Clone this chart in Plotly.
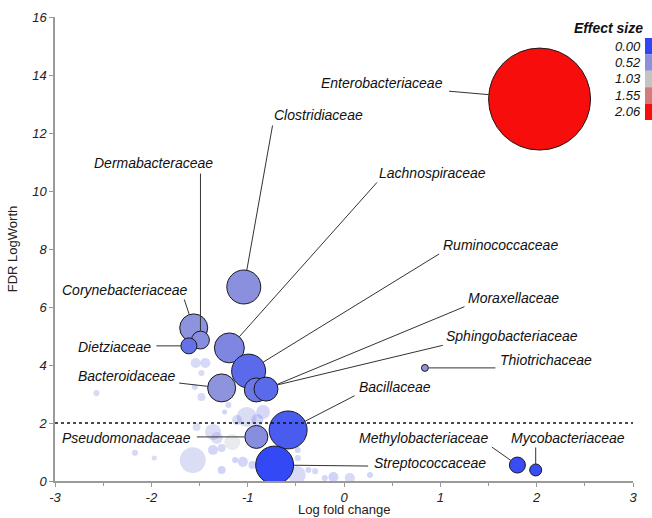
import plotly.graph_objects as go
from plotly.colors import sample_colorscale

# ---------------- data ----------------
# labelled (significant) taxa
taxa = ["Enterobacteriaceae", "Clostridiaceae", "Corynebacteriaceae", "Dermabacteraceae",
        "Dietziaceae", "Lachnospiraceae", "Ruminococcaceae", "Sphingobacteriaceae",
        "Moraxellaceae", "Thiotrichaceae", "Bacteroidaceae", "Bacillaceae",
        "Pseudomonadaceae", "Streptococcaceae", "Methylobacteriaceae", "Mycobacteriaceae"]
log_fc = [2.03, -1.04, -1.56, -1.49, -1.61, -1.19, -0.99, -0.91,
          -0.81, 0.84, -1.27, -0.58, -0.91, -0.72, 1.80, 1.99]
logworth = [13.17, 6.69, 5.28, 4.86, 4.66, 4.59, 3.79, 3.14,
            3.17, 3.90, 3.21, 1.76, 1.52, 0.55, 0.55, 0.38]
effect = [2.06, 0.52, 0.55, 0.50, 0.30, 0.45, 0.25, 0.35,
          0.25, 0.55, 0.55, 0.15, 0.50, 0.02, 0.05, 0.05]
abundance = [650, 72, 49, 20, 16, 56, 72, 36, 36, 3, 49, 90, 33, 90, 16, 9]

# other (non-highlighted) taxa
bg_fc = [-2.57, -2.17, -1.97, -1.54, -1.44, -1.48, -1.55, -1.48, -1.20, -1.24,
         -1.01, -0.90, -0.84, -1.11, -1.53, -1.36, -1.32, -1.16, -1.36, -1.27,
         -1.57, -1.13, -1.05, -0.95, -1.27, -0.48, -0.48, -0.49, -0.37, -0.30,
         -0.20, -0.11, 0.06, 0.27]
bg_lw = [3.03, 0.97, 0.79, 4.07, 4.07, 3.72, 3.24, 2.90, 2.62, 2.38,
         2.21, 2.10, 2.38, 2.10, 1.86, 1.69, 1.48, 1.34, 1.07, 1.14,
         0.72, 0.72, 0.66, 0.55, 0.38, 0.79, 1.07, 0.21, 0.38, 0.34,
         0.10, 0.14, 0.10, 0.21]
bg_effect = [0.45, 0.40, 0.45, 0.45, 0.40, 0.45, 0.40, 0.45, 0.40, 0.35,
             0.50, 0.35, 0.40, 0.45, 0.50, 0.50, 0.55, 0.95, 0.35, 0.40,
             0.50, 0.30, 0.35, 0.35, 0.30, 0.40, 0.35, 0.45, 0.35, 0.40,
             0.35, 0.30, 0.45, 0.35]
bg_abundance = [2.3, 2.3, 1.6, 6.3, 6.3, 2.3, 2.3, 4, 2.3, 1.6,
                25, 9, 12, 6.3, 4, 16, 9, 16, 6.3, 4,
                42, 2.3, 6.3, 4, 4, 2.3, 2.3, 20, 2.3, 2.3,
                2.3, 6.3, 6.3, 2.3]

x_ticks = [-3, -2, -1, 0, 1, 2, 3]
x_minor = [-2.5, -1.5, -0.5, 0.5, 1.5, 2.5]
y_ticks = [0, 2, 4, 6, 8, 10, 12, 14, 16]
threshold = 2
legend_values = [0.00, 0.52, 1.03, 1.55, 2.06]
legend_labels = ["0.00", "0.52", "1.03", "1.55", "2.06"]
x_title = "Log fold change"
y_title = "FDR LogWorth"

# ---------------- styling ----------------
FONT = "Liberation Sans, Arial, sans-serif"
EMAX = 2.06
cscale = [[0.0, "#3046f6"], [0.52 / EMAX, "#8a90de"], [1.03 / EMAX, "#c4c4c4"],
          [1.55 / EMAX, "#d47a7a"], [1.0, "#f80d0d"]]
SIZEREF = 0.125

# label placement (pixel offsets from the bubble centre):
# xanchor, text dx, text dy, line-tail dx, line-tail dy, standoff
label_pos = {
    "Enterobacteriaceae": ("right", -95, -16, -92, -8, 51),
    "Clostridiaceae": ("left", 28, -172, 29, -163, 17),
    "Corynebacteriaceae": ("right", -4, -38, -10, -30, 14),
    "Dermabacteraceae": ("left", -108, -177, 0, -168, 9),
    "Dietziaceae": ("right", -36, 1, -34, 0, 8),
    "Lachnospiraceae": ("left", 148, -175, 149, -167, 15),
    "Ruminococcaceae": ("left", 192, -126, 192, -118, 17),
    "Sphingobacteriaceae": ("left", 188, -54, 188, -45, 22),
    "Moraxellaceae": ("left", 200, -91, 200, -83, 12),
    "Thiotrichaceae": ("left", 73, -8, 72, 0, 4),
    "Bacteroidaceae": ("right", -44, -12, -44, -5, 14),
    "Bacillaceae": ("left", 69, -43, 68, -35, 19),
    "Pseudomonadaceae": ("right", -63, 1, -61, 0, 12),
    "Streptococcaceae": ("left", 97, -2, 95, 1, 19),
    "Methylobacteriaceae": ("right", -27, -27, -27, -19, 8),
    "Mycobacteriaceae": ("left", -27, -32, 0, -24, 6),
}

fig = go.Figure()

fig.add_trace(go.Scatter(
    x=bg_fc, y=bg_lw, mode="markers", hoverinfo="skip",
    marker=dict(size=bg_abundance, sizemode="area", sizeref=SIZEREF,
                color=bg_effect, colorscale=cscale, cmin=0, cmax=EMAX,
                opacity=0.3, line=dict(width=0)),
))

fig.add_trace(go.Scatter(
    x=log_fc, y=logworth, mode="markers", text=taxa,
    marker=dict(size=abundance, sizemode="area", sizeref=SIZEREF,
                color=effect, colorscale=cscale, cmin=0, cmax=EMAX,
                opacity=1, line=dict(width=1, color="#1a1a1a")),
))

# threshold line
fig.add_shape(type="line", xref="paper", yref="y", x0=0, x1=1, y0=threshold, y1=threshold,
              line=dict(color="#111", width=1.3, dash="3px,3px"), layer="above")

for name, xv, yv in zip(taxa, log_fc, logworth):
    xa, tdx, tdy, adx, ady, so = label_pos[name]
    fig.add_annotation(x=xv, y=yv, xref="x", yref="y", text="", showarrow=True,
                       ax=adx, ay=ady, axref="pixel", ayref="pixel",
                       arrowhead=0, arrowwidth=1, arrowcolor="#333", standoff=so)
    fig.add_annotation(x=xv, y=yv, xref="x", yref="y", text=name, showarrow=False,
                       xanchor=xa, yanchor="middle", xshift=tdx, yshift=-tdy,
                       font=dict(family=FONT, size=14, color="#111", style="italic"))

# effect-size legend (positions given in page pixels, converted to paper units)
leg_colors = sample_colorscale(cscale, [v / EMAX for v in legend_values])
PX0, PW, PY0, PH = 55.0, 578.0, 481.0, 464.0
def px_x(p):
    return (p - PX0) / PW
def px_y(p):
    return (PY0 - p) / PH
top = 38.0
step = 16.4
for i, (lab, col) in enumerate(zip(legend_labels, leg_colors)):
    y0 = top + i * step
    fig.add_shape(type="rect", xref="paper", yref="paper",
                  x0=px_x(645), x1=px_x(653), y0=px_y(y0 + step), y1=px_y(y0),
                  fillcolor=col, line=dict(width=0))
    fig.add_annotation(xref="paper", yref="paper", x=px_x(643), y=px_y(y0 + step / 2),
                       text=lab, showarrow=False, xanchor="right", yanchor="middle",
                       font=dict(family=FONT, size=13, color="#111", style="italic"))
fig.add_annotation(xref="paper", yref="paper", x=px_x(645), y=px_y(28),
                   text="<b>Effect size</b>", showarrow=False, xanchor="right", yanchor="middle",
                   font=dict(family=FONT, size=14, color="#111", style="italic"))

# x-axis title
fig.add_annotation(xref="paper", yref="paper", x=0.5, y=px_y(509), text=x_title,
                   showarrow=False, xanchor="center", yanchor="middle",
                   font=dict(family=FONT, size=13, color="#222"))

axis_font = dict(family=FONT, size=13, color="#222", style="italic")
fig.update_xaxes(range=[-3, 3], tickmode="array", tickvals=x_ticks,
                 ticktext=[str(v) for v in x_ticks], ticks="outside", ticklen=4,
                 tickcolor="#9a9a9a", showline=True, linecolor="#9a9a9a", linewidth=1.5,
                 showgrid=False, zeroline=False, tickfont=axis_font,
                 minor=dict(tickvals=x_minor, ticks="outside", ticklen=3, tickcolor="#9a9a9a"))
fig.update_yaxes(range=[0, 16], tickmode="array", tickvals=y_ticks,
                 ticktext=[str(v) for v in y_ticks], ticks="outside", ticklen=4,
                 tickcolor="#9a9a9a", showline=True, linecolor="#9a9a9a", linewidth=1.5,
                 showgrid=False, zeroline=False, tickfont=axis_font,
                 title=dict(text=y_title, font=dict(family=FONT, size=13, color="#222"),
                            standoff=12))

fig.update_layout(width=652, height=518, margin=dict(l=55, r=19, t=17, b=37, autoexpand=False),
                  plot_bgcolor="white", paper_bgcolor="white", showlegend=False,
                  font=dict(family=FONT))

# remove the page's default body margin so the figure fills the window exactly
fig.write_html("out.html", config={"displayModeBar": False},
               post_script="document.body.style.margin='0';"
                           "document.documentElement.style.overflow='hidden';")
